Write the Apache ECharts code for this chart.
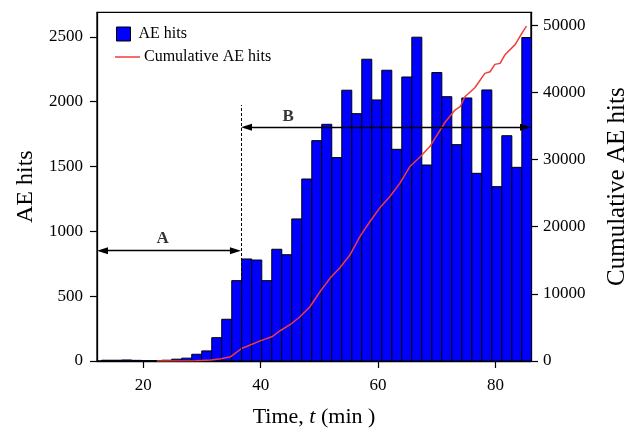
<!DOCTYPE html>
<html>
<head>
<meta charset="utf-8">
<script src="https://cdn.jsdelivr.net/npm/echarts@6/dist/echarts.min.js"></script>
<style>
  html, body { margin: 0; padding: 0; background: #fff; }
  #chart { width: 637px; height: 430px; }
</style>
</head>
<body>
<div id="chart"></div>
<script>
// Histogram bins: centre time (min) and AE hits per bin
const binWidth = 1.705;
const binTime = [13.75, 15.46, 17.16, 18.87, 20.57, 22.28, 23.98, 25.69, 27.39, 29.1,
  30.8, 32.51, 34.21, 35.92, 37.62, 39.33, 41.03, 42.74, 44.44, 46.15,
  47.85, 49.56, 51.26, 52.97, 54.67, 56.38, 58.08, 59.79, 61.49, 63.2,
  64.9, 66.61, 68.31, 70.02, 71.72, 73.43, 75.13, 76.84, 78.54, 80.25,
  81.95, 83.66, 85.36];
const aeHits = [6, 6, 8, 5, 2, 2, 6, 14, 22, 52,
  78, 180, 322, 620, 787, 779, 620, 862, 820, 1096,
  1404, 1700, 1826, 1569, 2089, 1908, 2328, 2014, 2243, 1633,
  2191, 2498, 1512, 2225, 2039, 1669, 2029, 1448, 2091, 1345,
  1738, 1494, 2495];

// Cumulative AE hits curve
const cumTime = [22.3, 29.0, 31.5, 33.2, 34.9, 36.8, 37.5, 39.9, 41.9, 43.3,
  45.0, 46.7, 48.4, 50.1, 51.8, 53.5, 55.2, 56.9, 58.6, 60.3,
  62.0, 63.7, 65.4, 67.2, 68.9, 69.7, 71.4, 73.1, 74.0, 74.8,
  76.5, 78.2, 79.1, 79.9, 80.8, 81.6, 83.4, 84.5, 85.3];
const cumHits = [0, 40, 150, 350, 640, 1900, 2130, 3000, 3600, 4500,
  5400, 6590, 8080, 10310, 12300, 13880, 15770, 18500, 20730, 22800,
  24450, 26440, 28900, 30400, 32000, 33140, 35500, 37350, 37850, 39330,
  40670, 42810, 43050, 44150, 44300, 45540, 47130, 48770, 49850];

// Tick labels
const timeTicks = [20, 40, 60, 80];
const hitsTicks = [0, 500, 1000, 1500, 2000, 2500];
const cumTicks = [0, 10000, 20000, 30000, 40000, 50000];

// Stage boundary and stage annotations
const stageBoundary = 36.64;
const stageLabels = [['A', 23.3, 947], ['B', 44.7, 1885]];

const FONT = "'Liberation Serif', 'Times New Roman', serif";
const xMin = 12.1, xMax = 86.07;
// half of the arrowhead length, in minutes, so the tips end on the target times
const tipInset = 0.94;

const chart = echarts.init(document.getElementById('chart'), null, { renderer: 'canvas' });

const axisLineStyle = { color: '#000', width: 1.3 };
const plain = v => String(v);

chart.setOption({
  animation: false,
  backgroundColor: '#fff',
  grid: {
    left: 97, right: 106, top: 12.3, bottom: 69,
    outerBoundsMode: 'none',
    show: true, borderColor: '#000', borderWidth: 1.3, backgroundColor: 'transparent'
  },
  legend: [
    {
      data: ['AE hits'],
      left: 116, top: 26, padding: 0,
      itemWidth: 14, itemHeight: 14, icon: 'rect',
      itemStyle: { color: '#0000ff', borderColor: '#000', borderWidth: 1 },
      textStyle: { fontFamily: FONT, fontSize: 16, color: '#000', padding: [0, 0, 0, 3] },
      selectedMode: false
    },
    {
      data: [{ name: 'Cumulative AE hits', icon: 'rect' }],
      left: 115, top: 49, padding: 0,
      itemWidth: 25, itemHeight: 1.5,
      itemStyle: { color: '#f23c3c', borderWidth: 0 },
      textStyle: { fontFamily: FONT, fontSize: 16, color: '#000', padding: [0, 0, 0, -1] },
      selectedMode: false
    }
  ],
  xAxis: {
    type: 'value', min: xMin, max: xMax,
    name: 'Time, {i|t} (min )',
    nameLocation: 'middle', nameGap: 45,
    nameTextStyle: {
      fontFamily: FONT, fontSize: 22, color: '#000',
      rich: { i: { fontFamily: FONT, fontSize: 22, fontStyle: 'italic', color: '#000' } }
    },
    axisLine: { show: true, lineStyle: axisLineStyle },
    axisTick: { show: true, customValues: timeTicks, length: 7, lineStyle: { color: '#000', width: 1.2 } },
    axisLabel: { customValues: timeTicks, formatter: plain, fontFamily: FONT, fontSize: 17, color: '#000', margin: 16 },
    splitLine: { show: false }
  },
  yAxis: [
    {
      type: 'value', min: 0, max: 2690, position: 'left',
      name: 'AE hits', nameLocation: 'middle', nameGap: 56,
      nameTextStyle: { fontFamily: FONT, fontSize: 24, color: '#000' },
      axisLine: { show: true, lineStyle: axisLineStyle },
      axisTick: { show: true, customValues: hitsTicks, length: 7, lineStyle: { color: '#000', width: 1.2 } },
      axisLabel: { customValues: hitsTicks, formatter: plain, fontFamily: FONT, fontSize: 17, color: '#000', margin: 14 },
      splitLine: { show: false }
    },
    {
      type: 'value', min: 0, max: 51900, position: 'right',
      name: 'Cumulative AE hits', nameLocation: 'middle', nameGap: 74,
      nameTextStyle: { fontFamily: FONT, fontSize: 25, color: '#000' },
      axisLine: { show: true, lineStyle: axisLineStyle },
      axisTick: { show: true, customValues: cumTicks, length: 7, lineStyle: { color: '#000', width: 1.2 } },
      axisLabel: { customValues: cumTicks, formatter: plain, fontFamily: FONT, fontSize: 17, color: '#000', margin: 12 },
      splitLine: { show: false }
    }
  ],
  series: [
    {
      // dashed boundary between stage A and stage B
      name: 'boundary', type: 'line', data: [], z: 1, silent: true,
      xAxisIndex: 0, yAxisIndex: 0,
      markLine: {
        silent: true, symbol: ['none', 'none'], animation: false,
        label: { show: false },
        lineStyle: { color: '#000', width: 1, type: [3, 2] },
        emphasis: { disabled: true },
        data: [[{ coord: [stageBoundary, 0] }, { coord: [stageBoundary, 1975] }]]
      }
    },
    {
      name: 'AE hits', type: 'custom', z: 2, clip: true,
      xAxisIndex: 0, yAxisIndex: 0,
      itemStyle: { color: '#0000ff' },
      encode: { x: 0, y: 1 },
      data: binTime.map((t, i) => [t, aeHits[i]]),
      renderItem: function (params, api) {
        const t = api.value(0), v = api.value(1);
        const p0 = api.coord([t - binWidth / 2, v]);
        const p1 = api.coord([t + binWidth / 2, 0]);
        return {
          type: 'rect',
          shape: { x: p0[0], y: p0[1], width: p1[0] - p0[0], height: p1[1] - p0[1] },
          style: { fill: '#0000ff', stroke: '#000', lineWidth: 1 }
        };
      }
    },
    {
      name: 'Cumulative AE hits', type: 'line', z: 3,
      xAxisIndex: 0, yAxisIndex: 1,
      symbol: 'none', smooth: false,
      color: '#f23c3c',
      lineStyle: { color: '#f23c3c', width: 1.5 },
      data: cumTime.map((t, i) => [t, cumHits[i]])
    },
    {
      // stage arrows A and B
      name: 'stages', type: 'line', data: [], z: 4, silent: true,
      xAxisIndex: 0, yAxisIndex: 0,
      markLine: {
        silent: true, animation: false,
        symbol: ['triangle', 'triangle'], symbolSize: [7, 11],
        label: { show: false },
        lineStyle: { color: '#000', width: 1.3, type: 'solid' },
        emphasis: { disabled: true },
        data: [
          [{ coord: [xMin + tipInset, 851] }, { coord: [stageBoundary - tipInset, 851] }],
          [{ coord: [stageBoundary + tipInset, 1803] }, { coord: [xMax - tipInset, 1803] }]
        ]
      }
    },
    {
      name: 'stage labels', type: 'scatter', z: 5, silent: true,
      xAxisIndex: 0, yAxisIndex: 0,
      symbolSize: 1, itemStyle: { color: 'rgba(0,0,0,0)' },
      label: {
        show: true, position: 'inside',
        formatter: p => p.value[2],
        fontFamily: FONT, fontSize: 17, fontWeight: 'bold', color: '#000'
      },
      data: stageLabels.map(s => [s[1], s[2], s[0]])
    }
  ]
});
</script>
</body>
</html>
